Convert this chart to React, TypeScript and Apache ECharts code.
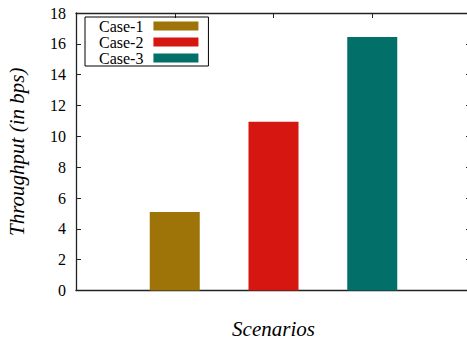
import React, { useEffect, useRef } from "react";
import * as echarts from "echarts";

const seriesNames = ["Case-1", "Case-2", "Case-3"];
const positions = [1, 2, 3];
const throughput = [5.1, 10.95, 16.45];
const colors = ["#9E7409", "#D61610", "#036F69"];
const yTicks = { min: 0, max: 18, interval: 2 };

export default function App() {
  const ref = useRef<HTMLDivElement>(null);
  useEffect(() => {
    if (!ref.current) return;
    const chart = echarts.init(ref.current, undefined, { renderer: "svg" });
    const font = "Liberation Serif";
    const mkLine = () => ({ show: true, onZero: false, lineStyle: { color: "#222", width: 1.3 } });
    const mkTick = () => ({ show: true, inside: true, length: 5, lineStyle: { color: "#222", width: 1 } });
    chart.setOption({
      animation: false,
      textStyle: { fontFamily: font },
      grid: { left: 76, right: -4, top: 13, bottom: 53.5, outerBoundsMode: "none", containLabel: false },
      legend: {
        data: seriesNames,
        left: 85,
        top: 17,
        orient: "vertical",
        align: "right",
        itemWidth: 45,
        itemHeight: 9,
        itemGap: 0,
        borderColor: "#000",
        borderWidth: 1,
        borderRadius: 0,
        padding: [1, 10, 0, 14],
        textStyle: { fontFamily: font, fontSize: 16, color: "#000", padding: [0, 5, 0, 0] },
        icon: "rect",
        selectedMode: false,
      },
      xAxis: [
        {
          type: "value",
          min: 0,
          max: 4,
          interval: 1,
          position: "bottom",
          axisLine: mkLine(),
          axisTick: mkTick(),
          axisLabel: { show: false },
          splitLine: { show: false },
          name: "Scenarios",
          nameLocation: "middle",
          nameGap: 28,
          nameMoveOverlap: false,
          nameTextStyle: { fontFamily: font, fontStyle: "italic", fontSize: 21, color: "#000" },
        },
        {
          type: "value",
          min: 0,
          max: 4,
          interval: 1,
          position: "top",
          axisLine: mkLine(),
          axisTick: mkTick(),
          axisLabel: { show: false },
          splitLine: { show: false },
        },
      ],
      yAxis: [
        {
          type: "value",
          ...yTicks,
          position: "left",
          axisLine: mkLine(),
          axisTick: mkTick(),
          axisLabel: {
            fontFamily: font,
            fontSize: 16,
            color: "#000",
            margin: 10,
            formatter: (v: number) => "{s|" + v + "}",
            rich: { s: { fontFamily: font, fontSize: 16, color: "#000" } },
          },
          splitLine: { show: false },
          name: "Throughput (in bps)",
          nameLocation: "middle",
          nameGap: 49,
          nameMoveOverlap: false,
          nameTextStyle: { fontFamily: font, fontStyle: "italic", fontSize: 21, color: "#000" },
        },
        {
          type: "value",
          ...yTicks,
          position: "right",
          axisLine: mkLine(),
          axisTick: mkTick(),
          axisLabel: { show: false },
          splitLine: { show: false },
        },
      ],
      series: seriesNames.map((name, i) => ({
        name,
        type: "bar",
        stack: "all",
        barWidth: 50,
        z: 1,
        itemStyle: { color: colors[i] },
        data: [[positions[i], throughput[i]]],
      })),
    });
    return () => chart.dispose();
  }, []);
  return (
    <div
      ref={ref}
      style={{ position: "absolute", left: 0, top: 0, width: 467, height: 344 }}
    />
  );
}
